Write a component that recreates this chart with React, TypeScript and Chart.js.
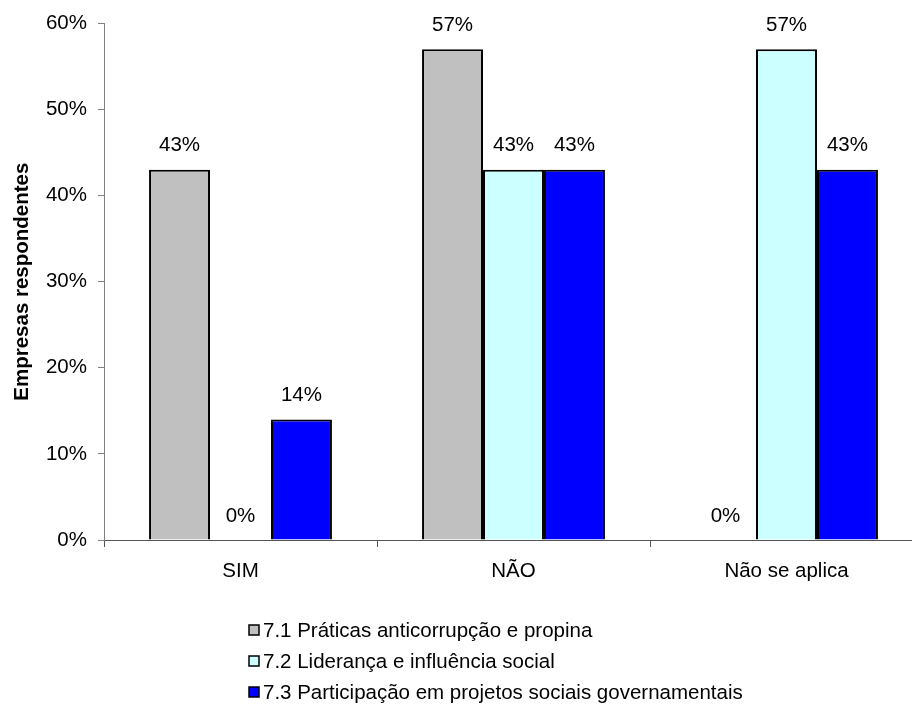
import React, { useEffect, useRef } from "react";
import { Chart, registerables } from "chart.js";

Chart.register(...registerables);

const categories = ["SIM", "NÃO", "Não se aplica"];
const seriesNames = [
  "7.1 Práticas anticorrupção e propina",
  "7.2 Liderança e influência social",
  "7.3 Participação em projetos sociais governamentais",
];
const praticas = [43, 57, 0];
const lideranca = [0, 43, 57];
const participacao = [14, 43, 43];
const seriesColors = ["#C0C0C0", "#CCFFFF", "#0000FF"];
const yTicks = [0, 10, 20, 30, 40, 50, 60];
const yTitle = "Empresas respondentes";

const FONT = "'Liberation Sans', Arial, sans-serif";
const FS = 20.5;

const valueLabels = {
  id: "valueLabels",
  afterDatasetsDraw(chart: any) {
    const ctx = chart.ctx;
    ctx.save();
    ctx.font = `${FS}px ${FONT}`;
    ctx.fillStyle = "#000";
    ctx.textAlign = "center";
    ctx.textBaseline = "middle";
    chart.data.datasets.forEach((ds: any, i: number) => {
      const meta = chart.getDatasetMeta(i);
      meta.data.forEach((el: any, j: number) => {
        ctx.fillText(`${ds.data[j]}%`, el.x, el.y - 24);
      });
    });
    ctx.restore();
  },
};

const sideTitleAndLegend = {
  id: "sideTitleAndLegend",
  afterDraw(chart: any) {
    const ctx = chart.ctx;
    const area = chart.chartArea;
    ctx.save();
    // rotated y-axis title
    ctx.font = `bold ${FS}px ${FONT}`;
    ctx.fillStyle = "#000";
    ctx.textAlign = "center";
    ctx.textBaseline = "middle";
    ctx.translate(22, (area.top + area.bottom) / 2);
    ctx.rotate(-Math.PI / 2);
    ctx.fillText(yTitle, 0, 0);
    ctx.restore();

    // vertical legend
    ctx.save();
    ctx.font = `${FS}px ${FONT}`;
    ctx.textAlign = "left";
    ctx.textBaseline = "middle";
    const rows = [630, 661, 692];
    chart.data.datasets.forEach((ds: any, i: number) => {
      const y = rows[i];
      ctx.fillStyle = ds.backgroundColor;
      ctx.fillRect(249, y - 5, 10, 10);
      ctx.strokeStyle = "#000";
      ctx.lineWidth = 1.5;
      ctx.strokeRect(249, y - 5, 10, 10);
      ctx.fillStyle = "#000";
      ctx.fillText(ds.label, 263, y + 1);
    });
    ctx.restore();
  },
};

export default function App() {
  const canvasRef = useRef<HTMLCanvasElement | null>(null);

  useEffect(() => {
    if (!canvasRef.current) return;
    const seriesData = [praticas, lideranca, participacao];
    const chart = new Chart(canvasRef.current, {
      type: "bar",
      data: {
        labels: categories,
        datasets: seriesNames.map((name, i) => ({
          label: name,
          data: seriesData[i],
          backgroundColor: seriesColors[i],
          borderColor: "#000",
          borderWidth: (c: any) => (c.raw === 0 ? 0 : 2),
          categoryPercentage: 0.67,
          barPercentage: 1,
        })),
      },
      options: {
        responsive: false,
        animation: false,
        devicePixelRatio: 1,
        layout: { padding: { top: 23, right: 7, left: 0, bottom: 0 } },
        plugins: {
          legend: { display: false },
          tooltip: { enabled: false },
          title: { display: false },
        },
        scales: {
          x: {
            grid: {
              offset: true,
              drawOnChartArea: false,
              drawTicks: true,
              tickLength: 7,
              tickColor: "#555",
            },
            border: { display: true, color: "#555", width: 1 },
            ticks: {
              color: "#000",
              font: { family: FONT, size: FS },
              padding: 12,
              maxRotation: 0,
            },
            afterFit: (scale: any) => {
              scale.height = 165;
            },
          },
          y: {
            min: 0,
            max: 60,
            afterBuildTicks: (scale: any) => {
              scale.ticks = yTicks.map((v) => ({ value: v }));
            },
            grid: {
              drawOnChartArea: false,
              drawTicks: true,
              tickLength: 6,
              tickColor: "#808080",
            },
            border: { display: true, color: "#808080", width: 1 },
            ticks: {
              color: "#000",
              font: { family: FONT, size: FS },
              padding: 11,
              callback: (v: any) => `${v}%`,
            },
            afterFit: (scale: any) => {
              scale.width = 104;
            },
          },
        },
      },
      plugins: [valueLabels, sideTitleAndLegend],
    });
    return () => chart.destroy();
  }, []);

  return (
    <div
      style={{
        position: "fixed",
        left: 0,
        top: 0,
        width: 912,
        height: 705,
        overflow: "hidden",
        background: "#fff",
      }}
    >
      <canvas
        ref={canvasRef}
        width={930}
        height={705}
        style={{ width: 930, height: 705, display: "block" }}
      />
    </div>
  );
}
